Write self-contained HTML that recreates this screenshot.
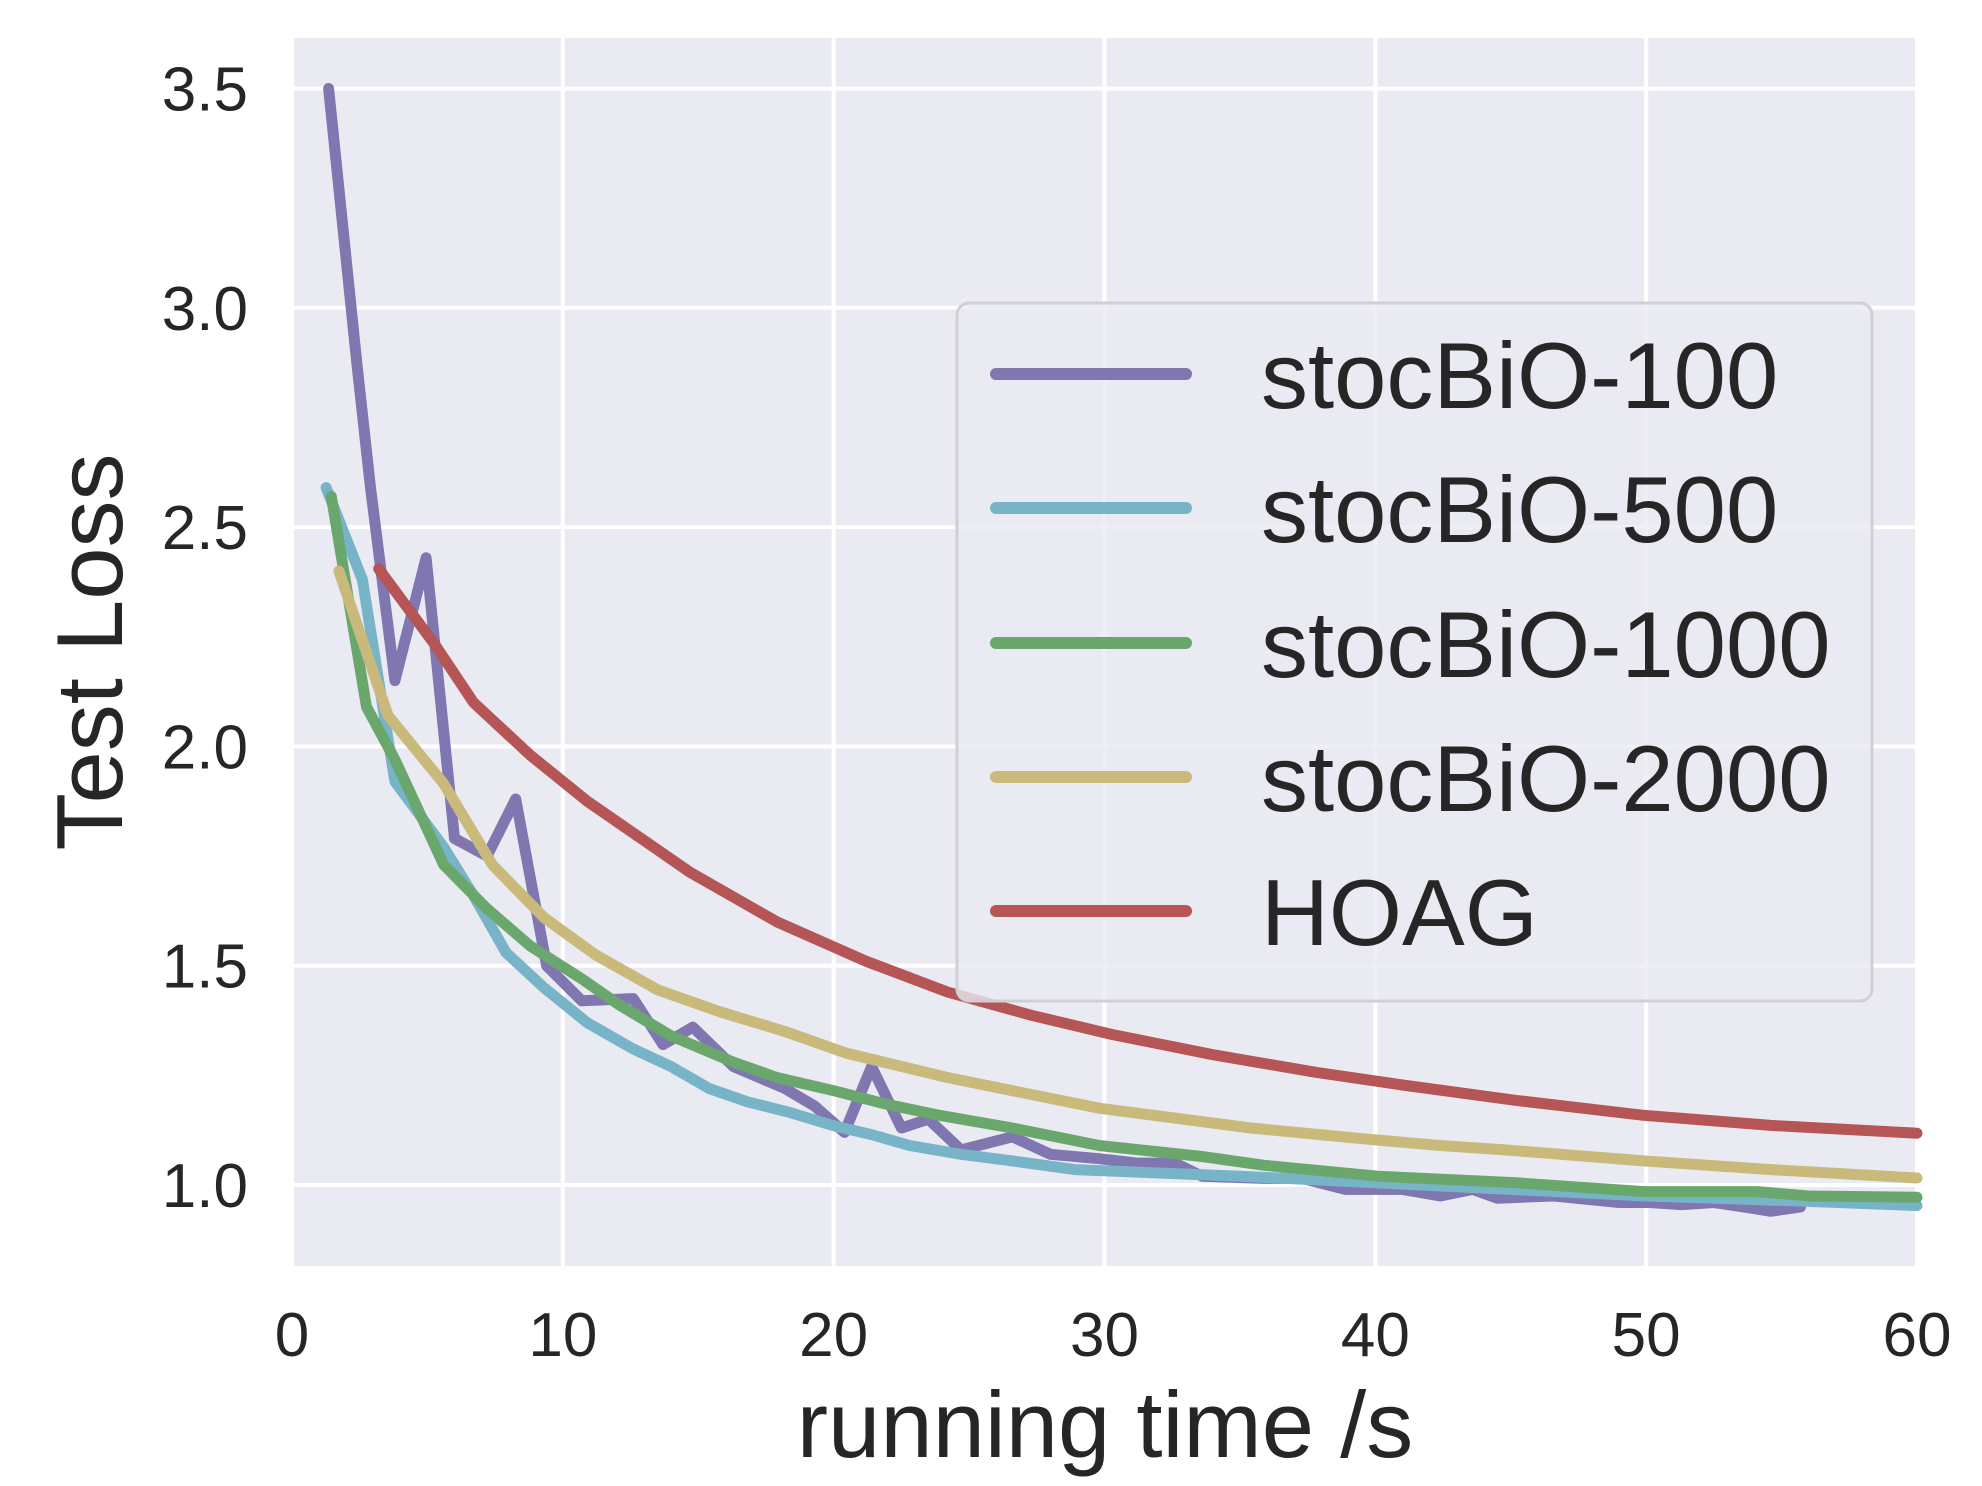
<!DOCTYPE html>
<html><head><meta charset="utf-8">
<style>
html,body{margin:0;padding:0;background:#fff;}
svg{display:block;font-family:"Liberation Sans",Arial,sans-serif;}
</style></head>
<body>
<svg id="chart" width="1982" height="1486" viewBox="0 0 1982 1486" xmlns="http://www.w3.org/2000/svg">
<rect x="292" y="38" width="1626" height="1228" fill="#eaeaf2"/>
<g id="grid"></g>
<g id="series"></g>
<g id="ticks" fill="#262626" font-size="62"></g>
<text x="1105" y="1457" text-anchor="middle" font-size="94" fill="#262626">running time /s</text>
<text transform="translate(122,652) rotate(-90)" text-anchor="middle" font-size="94" fill="#262626">Test Loss</text>
<g id="legend"></g>
</svg>
<script>
const xTicks=[0,10,20,30,40,50,60];
const yTicks=[1.0,1.5,2.0,2.5,3.0,3.5];
const seriesNames=["stocBiO-100","stocBiO-500","stocBiO-1000","stocBiO-2000","HOAG"];
const seriesColors=["#8076b0","#78b4c8","#6aa76d","#c9b97b","#b55555"];
const t100=[1.35,2.4,2.9,3.8,4.95,6.0,7.2,8.26,9.4,10.7,12.6,13.7,14.8,16.3,18.2,19.3,20.4,21.4,22.5,23.5,24.7,26.6,28,29.8,31.2,32.6,33.6,35.9,37.3,38.9,41,42.4,43.6,44.5,46.6,49,50.1,51.3,52.5,53.6,54.6,55.7];
const v100=[3.50,2.87,2.59,2.15,2.43,1.79,1.75,1.88,1.50,1.42,1.425,1.32,1.36,1.27,1.22,1.18,1.12,1.27,1.13,1.15,1.08,1.11,1.07,1.06,1.05,1.05,1.02,1.015,1.015,0.99,0.99,0.975,0.99,0.97,0.975,0.96,0.96,0.955,0.96,0.95,0.94,0.95];
const t500=[1.26,2.6,3.8,5.6,6.7,7.9,9.3,10.9,12.6,14,15.4,16.8,18.4,20,21.4,22.8,24.7,26.6,28.9,35,40,45,50,55,60];
const v500=[2.59,2.38,1.92,1.77,1.66,1.53,1.45,1.37,1.31,1.27,1.22,1.19,1.165,1.135,1.115,1.09,1.07,1.055,1.035,1.02,1.005,0.99,0.975,0.965,0.953];
const t1000=[1.45,2.75,3.8,5.6,7.2,8.8,10.7,12.1,14,16.3,17.9,20,21.9,23.8,26.6,29.8,33.6,35.9,40.1,45.2,49.9,54.1,56,60];
const v1000=[2.57,2.09,1.97,1.73,1.63,1.545,1.47,1.41,1.34,1.28,1.245,1.215,1.185,1.16,1.13,1.09,1.065,1.045,1.02,1.005,0.985,0.985,0.975,0.972];
const t2000=[1.73,2.5,3.55,5.6,7.4,9.3,11.2,13.5,15.8,18.2,20.5,24.2,26.6,29.8,35.4,39.6,42.4,44.8,49.9,54.6,60];
const v2000=[2.40,2.26,2.07,1.915,1.73,1.61,1.525,1.445,1.395,1.35,1.30,1.245,1.215,1.175,1.13,1.105,1.09,1.08,1.055,1.035,1.016];
const tHoag=[3.2,5.3,6.7,8.8,10.9,14.7,17.9,21.2,24.2,27.3,30.3,34,37.8,41,45.2,49.9,54.6,60];
const vHoag=[2.405,2.23,2.10,1.98,1.875,1.713,1.60,1.51,1.44,1.387,1.343,1.297,1.257,1.228,1.193,1.159,1.136,1.118];
const allT=[t100,t500,t1000,t2000,tHoag];
const allV=[v100,v500,v1000,v2000,vHoag];

const NS="http://www.w3.org/2000/svg";
const X0=292,X1=1917,YB=1185,YK=438.6;
function xs(t){return X0+(t-0)/60*(X1-X0);}
function ys(v){return YB-(v-1)*YK;}
function mk(tag,attrs,parent){const e=document.createElementNS(NS,tag);for(const k in attrs)e.setAttribute(k,attrs[k]);parent.appendChild(e);return e;}

const grid=document.getElementById('grid');
const ticks=document.getElementById('ticks');
xTicks.forEach(t=>{
  const l=mk('line',{x1:xs(t),x2:xs(t),y1:38,y2:1266,stroke:'#fff','stroke-width':4},grid);
  
  
  const tx=mk('text',{x:xs(t),y:1356,'text-anchor':'middle'},ticks);
  tx.textContent=String(t);
  
  
});
yTicks.forEach(v=>{
  const l=mk('line',{x1:292,x2:1918,y1:ys(v),y2:ys(v),stroke:'#fff','stroke-width':4},grid);
  
  
  const tx=mk('text',{x:248,y:ys(v)+22,'text-anchor':'end'},ticks);
  tx.textContent=v.toFixed(1);
  
  
});

const sg=document.getElementById('series');
allT.forEach((ts,i)=>{
  const pts=ts.map((t,j)=>xs(t).toFixed(1)+','+ys(allV[i][j]).toFixed(1)).join(' ');
  const p=mk('polyline',{points:pts,fill:'none',stroke:seriesColors[i],'stroke-width':11,'stroke-linejoin':'round','stroke-linecap':'round'},sg);
  
  
});

const lg=document.getElementById('legend');
const box=mk('rect',{x:957,y:303,width:915,height:698,rx:12,fill:'rgba(234,234,242,0.8)',stroke:'#cfcfd4','stroke-width':3},lg);


const rowY=[374,508,643,777,911];
seriesNames.forEach((n,i)=>{
  const g=mk('g',{},lg);
  
  
  const l=mk('line',{x1:996,x2:1186,y1:rowY[i],y2:rowY[i],stroke:seriesColors[i],'stroke-width':12,'stroke-linecap':'round'},g);
  
  
  const t=mk('text',{x:1261,y:rowY[i]+34,'font-size':94,fill:'#262626'},g);
  t.textContent=n;
  
  
});
</script>
</body></html>
